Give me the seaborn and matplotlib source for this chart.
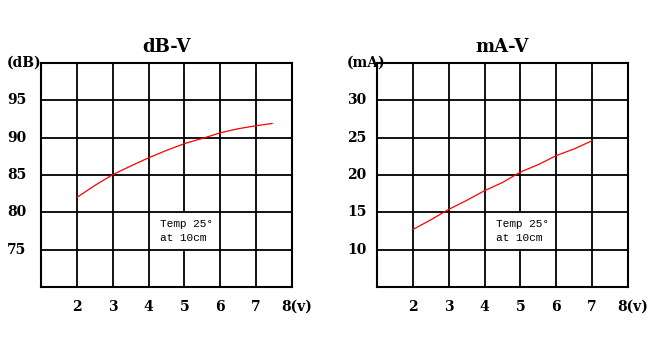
import matplotlib
matplotlib.use("Agg")
import matplotlib.pyplot as plt
import matplotlib.transforms as mtransforms
from matplotlib.patches import Rectangle
import seaborn as sns
import pandas as pd

# Sound level vs. drive voltage
db_volts = [2, 2.5, 3, 3.5, 4, 4.5, 5, 5.5, 6, 6.5, 7, 7.45]
db_levels = [82.0, 83.6, 85.05, 86.2, 87.3, 88.3, 89.2, 89.9, 90.65, 91.2, 91.6, 91.9]

# Current draw vs. drive voltage
ma_volts = [2, 2.5, 3, 3.5, 4, 4.5, 5, 5.5, 6, 6.5, 7]
ma_levels = [12.7, 14.0, 15.4, 16.6, 17.9, 19.0, 20.4, 21.4, 22.6, 23.5, 24.6]

x_ticks = [2, 3, 4, 5, 6, 7, 8]
x_labels = ["2", "3", "4", "5", "6", "7", "8(v)"]
db_ticks = [75, 80, 85, 90, 95, 100]
db_labels = ["75", "80", "85", "90", "95", "(dB)"]
ma_ticks = [10, 15, 20, 25, 30, 35]
ma_labels = ["10", "15", "20", "25", "30", "(mA)"]

sns.set_style("white")
plt.rcParams["font.family"] = ["DejaVu Serif"]
plt.rcParams["text.color"] = "black"

fig = plt.figure(figsize=(6.55, 3.39), dpi=100)
W, H = 655, 339

def make_axes(left_px):
    return fig.add_axes([left_px / W, 1 - 287 / H, 251 / W, 224 / H])

panels = [
    dict(ax=make_axes(41), x=db_volts, y=db_levels, ylim=(70, 100),
         yt=db_ticks, yl=db_labels, title="dB-V", lpad_px=34, note_y=77.5),
    dict(ax=make_axes(377), x=ma_volts, y=ma_levels, ylim=(5, 35),
         yt=ma_ticks, yl=ma_labels, title="mA-V", lpad_px=30, note_y=12.5),
]

for p in panels:
    ax = p["ax"]
    df = pd.DataFrame({"V": p["x"], "val": p["y"]})
    sns.lineplot(data=df, x="V", y="val", ax=ax, color="#ff0000",
                 linewidth=0.9, zorder=3)
    y0, y1 = p["ylim"]
    ax.set_xlim(1, 8)
    ax.set_ylim(y0, y1)
    ax.set_xticks(range(1, 9))
    ax.set_yticks(range(y0, y1 + 1, 5))
    ax.grid(True, color="black", linewidth=1.3)
    for s in ax.spines.values():
        s.set_visible(True)
        s.set_color("black")
        s.set_linewidth(1.5)
    ax.tick_params(length=0, labelbottom=False, labelleft=False)
    ax.set_xlabel("")
    ax.set_ylabel("")

    # x tick labels under the grid
    for v, lab in zip(x_ticks, x_labels):
        t = ax.text(v, -20 / 224, lab, transform=ax.get_xaxis_transform(),
                    ha="center", va="center", fontsize=10, fontweight="bold")
        if lab.endswith("(v)"):
            t.set_transform(ax.get_xaxis_transform() +
                            mtransforms.ScaledTranslation(5 / 100, 0, fig.dpi_scale_trans))

    # y tick labels, left aligned at a fixed column
    for v, lab in zip(p["yt"], p["yl"]):
        ax.text(-p["lpad_px"] / 251, v, lab, transform=ax.get_yaxis_transform(),
                ha="left", va="center", fontsize=10, fontweight="bold")

    ax.set_title(p["title"], fontsize=13, fontweight="bold", pad=8)

    # white panel behind the test-condition note
    ax.add_patch(Rectangle((4.04, y0 + 5.1), 1.92, 4.8, facecolor="white",
                           edgecolor="none", zorder=2))
    ax.text(4.33, p["note_y"], "Temp 25°\nat 10cm",
            fontsize=8, family=["Liberation Mono", "DejaVu Sans Mono"],
            ha="left", va="center", linespacing=1.45, zorder=4)

fig.savefig("out.png", dpi=100)
